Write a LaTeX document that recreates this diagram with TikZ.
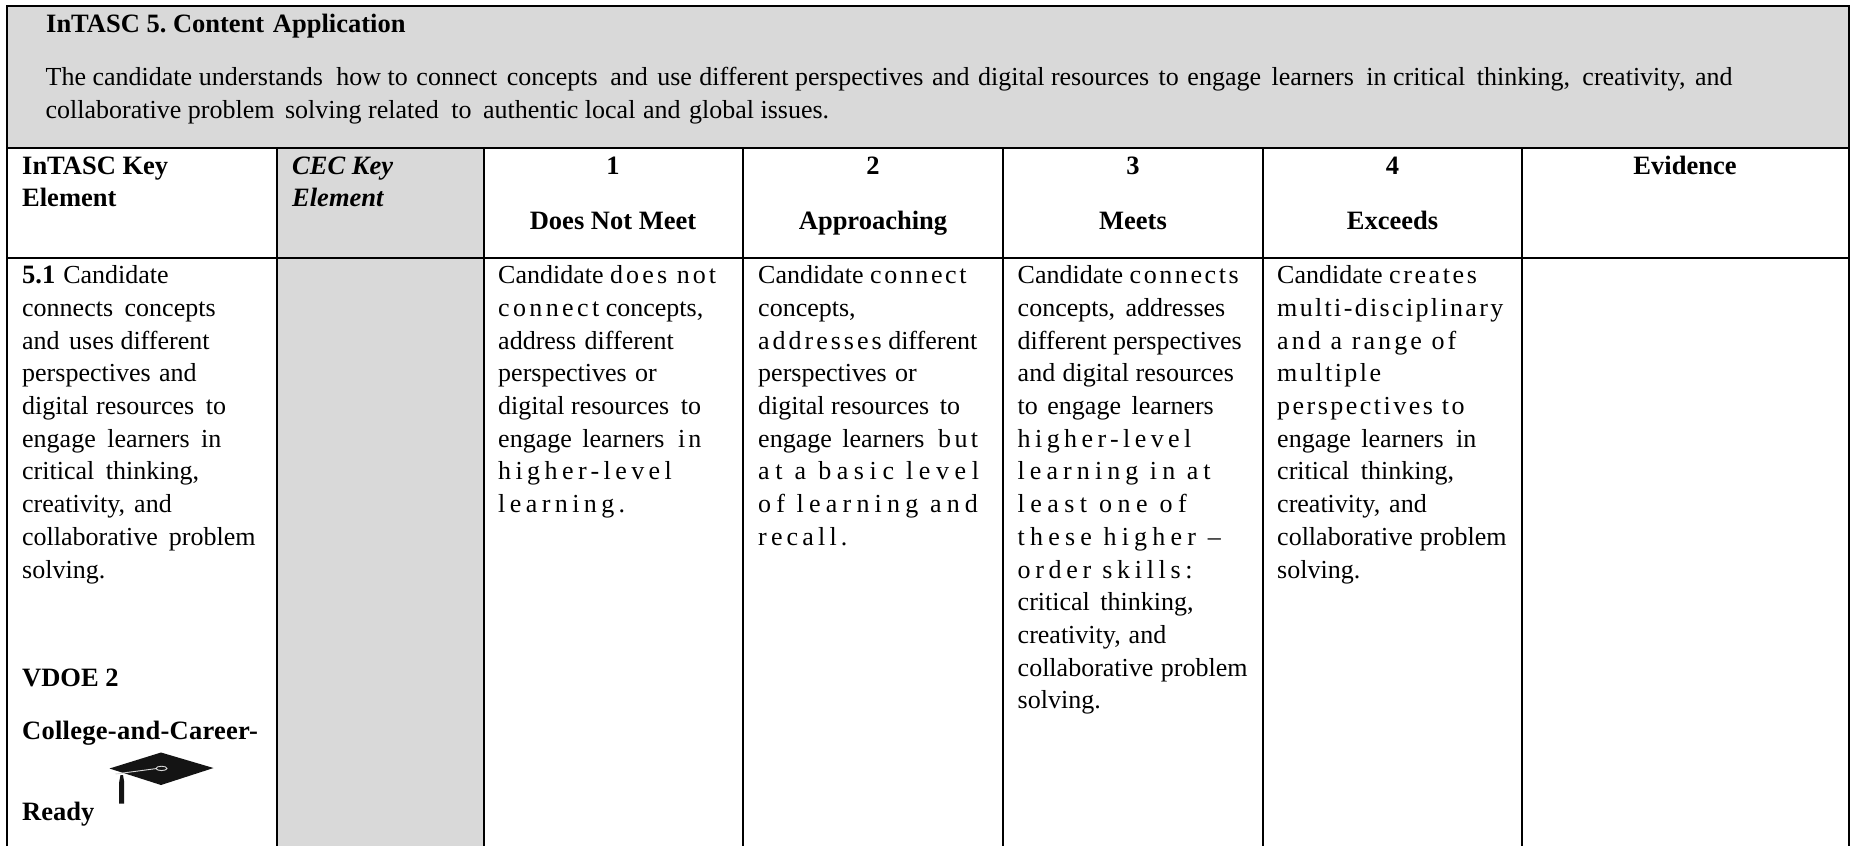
\documentclass[tikz,border=0pt]{standalone}
\usepackage{fontspec}
\setmainfont{Liberation Serif}
\newcommand{\ls}[2]{{\addfontfeature{LetterSpace=#1}#2}}
\newcommand{\fl}{\rule{0pt}{20pt}}
\newcommand{\bft}[1]{{\fontsize{26.5}{32.7}\selectfont\bfseries #1}}
\newcommand{\gp}[1]{\hspace{#1pt}}
\definecolor{panelgray}{HTML}{D9D9D9}
\definecolor{capblack}{HTML}{141414}
\tikzset{
  x=1pt,y=-1pt,
  rule/.style={line width=2pt,black},
  hdr/.style={anchor=north west,inner sep=0pt,align=left,font=\fontsize{26}{32.7}\selectfont},
  colhead/.style={anchor=north,inner sep=0pt,align=center,font=\fontsize{26.5}{32.7}\bfseries\selectfont},
  celltext/.style={anchor=north west,inner sep=0pt,align=left,font=\fontsize{26}{32.7}\selectfont},
  capcord/.style={white!85!black,line width=.9pt}
}
\begin{document}
\frenchspacing
\begin{tikzpicture}
\useasboundingbox (0,0) rectangle (1851,846);
\fill[white] (0,0) rectangle (1851,846);
\fill[panelgray] (7,6) rectangle (1849,148);
\fill[panelgray] (277,148) rectangle (484,846);
% rules
\draw[rule] (7,846) -- (7,6) -- (1849,6) -- (1849,846);
\draw[rule] (7,148) -- (1849,148);
\draw[rule] (7,258) -- (1849,258);
\foreach \cx in {277,484,742.5,1003,1263,1522}{\draw[rule] (\cx,148) -- (\cx,846);}
% banner
\node[hdr] (title) at (46,12) {\fl\bft{InTASC 5. Content\gp{2} Application}};
\node[hdr] (desc) at (45.5,65.5) {\fl The candidate understands\gp{7} how to\gp{2} connect\gp{3} concepts\gp{6} and\gp{3} use\gp{1} different perspectives\gp{2} and\gp{2} digital resources\gp{3} to\gp{2} engage\gp{4} learners\gp{6} in critical\gp{5} thinking,\gp{6} creativity,\gp{3} and\\
collaborative problem\gp{4} solving related\gp{6} to\gp{5} authentic local\gp{1} and\gp{2} global issues.};
% header row
\node[hdr] (h1) at (22,154) {\fl\bft{InTASC Key}\\\bft{Element}};
\node[hdr] (h2) at (292,154) {\fl\bft{\itshape CEC Key}\\\bft{\itshape Element}};
\node[colhead] (c1a) at (613,154) {\fl 1};
\node[colhead] (c1b) at (613,209) {\fl Does Not Meet};
\node[colhead] (c2a) at (873,154) {\fl 2};
\node[colhead] (c2b) at (873,209) {\fl Approaching};
\node[colhead] (c3a) at (1133,154) {\fl 3};
\node[colhead] (c3b) at (1133,209) {\fl Meets};
\node[colhead] (c4a) at (1392.5,154) {\fl 4};
\node[colhead] (c4b) at (1392.5,209) {\fl Exceeds};
\node[colhead] (ev) at (1685,154) {\fl Evidence};
% body
\node[celltext] (b1) at (22,263.5) {\fl\bft{5.1}\gp{1.5} Candidate\\connects\gp{5} concepts\\and\gp{3} uses different\\perspectives\gp{2} and\\digital\gp{1} resources\gp{5} to\\engage\gp{5} learners\gp{5} in\\critical\gp{5} thinking,\\creativity,\gp{2.5} and\\collaborative\gp{4.5} problem\\solving.};
\node[celltext] (v1) at (22,666) {\fl\bft{VDOE 2}};
\node[celltext] (v2) at (22,719) {\fl\bft{\ls{1}{College-and-Career-}}};
\node[celltext] (v3) at (22,800) {\fl\bft{Ready}};
\node[celltext] (b3) at (498,263.5) {\fl Candidate \ls{12}{does not}\\\ls{13}{connect} concepts,\\address\gp{2} different\\perspectives\gp{2} or\\digital resources\gp{5} to\\engage\gp{4} learners\gp{7} \ls{12}{in}\\\ls{17}{higher-level}\\\ls{17}{learning.}};
\node[celltext] (b4) at (758,263.5) {\fl Candidate \ls{10}{connect}\\concepts,\\\ls{11.5}{addresses} different\\perspectives\gp{2} or\\digital resources\gp{4} to\\engage\gp{4} learners\gp{7} \ls{13}{but}\\\ls{21.5}{at a basic level}\\\ls{20}{of learning and}\\\ls{16}{recall.}};
\node[celltext] (b5) at (1017.5,263.5) {\fl Candidate \ls{10}{connects}\\concepts,\gp{4} addresses\\different perspectives\\and\gp{1} digital resources\\to\gp{3} engage\gp{4} learners\\\ls{17}{higher-level}\\\ls{19.5}{learning in at}\\\ls{21}{least one of}\\\ls{20}{these higher –}\\\ls{18}{order skills:}\\critical\gp{4} thinking,\\creativity,\gp{1.5} and\\collaborative\gp{1} problem\\solving.};
\node[celltext] (b6) at (1277,263.5) {\fl Candidate \ls{10}{creates}\\\ls{9}{multi-disciplinary}\\\ls{12}{and a range of}\\\ls{9.5}{multiple}\\\ls{9.5}{perspectives to}\\engage\gp{4} learners\gp{6} in\\critical\gp{5} thinking,\\creativity,\gp{2.5} and\\collaborative\gp{0.5} problem\\solving.};
% cap
\fill[capblack] (109.5,768.5) -- (161,752.5) -- (213.5,768) -- (161,785) -- cycle;
\draw[capcord] (115.5,774) -- (156,768.6);
\draw[capcord] (161.5,768.4) ellipse (5.5 and 2.2);
\fill[capblack] (120.5,775) -- (123,775) -- (124.2,782) -- (124.2,803.5) -- (119.2,803.5) -- (119.2,782) -- cycle;
\end{tikzpicture}
\end{document}
